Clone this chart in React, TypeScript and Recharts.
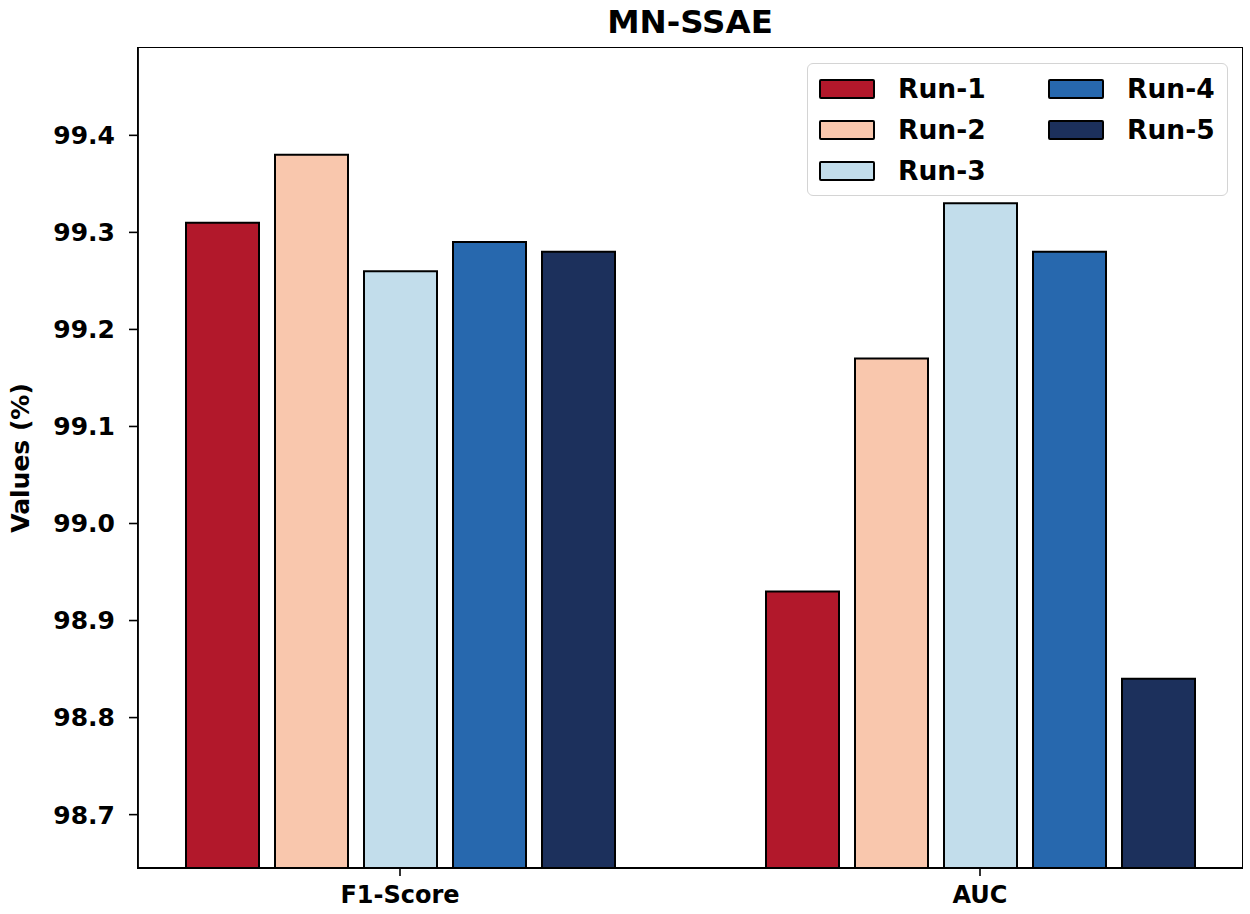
import React from 'react';
import { BarChart, Bar, XAxis, YAxis, Label } from 'recharts';

const categories = ['F1-Score', 'AUC'];
const run1 = [99.31, 98.93];
const run2 = [99.38, 99.17];
const run3 = [99.26, 99.33];
const run4 = [99.29, 99.28];
const run5 = [99.28, 98.84];
const seriesNames = ['Run-1', 'Run-2', 'Run-3', 'Run-4', 'Run-5'];
const seriesColors = ['#b2182b', '#f9c7ad', '#c2ddeb', '#2768ae', '#1c305c'];
const yTicks = [98.7, 98.8, 98.9, 99.0, 99.1, 99.2, 99.3, 99.4];

const seriesValues = [run1, run2, run3, run4, run5];
const data = categories.map((c, i) => {
  const row: Record<string, string | number> = { name: c };
  seriesNames.forEach((s, k) => {
    row[s] = seriesValues[k][i];
  });
  return row;
});

const FONT = '"DejaVu Sans", sans-serif';

const LegendBox = () => {
  const order = [0, 3, 1, 4, 2];
  return (
    <div
      style={{
        position: 'absolute',
        left: 807,
        top: 63,
        width: 421,
        height: 133,
        border: '1.5px solid #d4d4d4',
        borderRadius: 6,
        background: '#fff',
        boxSizing: 'border-box',
        fontFamily: FONT,
        fontWeight: 'bold',
        fontSize: 26.5,
      }}
    >
      {order.map((k, idx) => {
        const col = idx % 2;
        const row = Math.floor(idx / 2);
        return (
          <div
            key={seriesNames[k]}
            style={{
              position: 'absolute',
              left: col === 0 ? 11 : 240,
              top: 13 + row * 41,
              display: 'flex',
              alignItems: 'center',
              height: 24,
            }}
          >
            <div
              style={{
                width: 56,
                height: 20,
                background: seriesColors[k],
                border: '2px solid #000',
                boxSizing: 'border-box',
                borderRadius: 2,
              }}
            />
            <span style={{ marginLeft: 23, color: '#000', lineHeight: '24px' }}>{seriesNames[k]}</span>
          </div>
        );
      })}
    </div>
  );
};

export default function App() {
  return (
    <div style={{ position: 'absolute', left: 0, top: 0, width: 1250, height: 914, background: '#fff' }}>
      <BarChart
        width={1250}
        height={914}
        data={data}
        margin={{ top: 48, right: 8, bottom: 0, left: 0 }}
        barSize={73}
        barGap={16}
      >
        <XAxis
          dataKey="name"
          height={46}
          padding={{ left: -28, right: -28 }}
          axisLine={{ stroke: '#000', strokeWidth: 1.8 }}
          tickLine={{ stroke: '#000', strokeWidth: 1.6 }}
          tickSize={8}
          tickMargin={10}
          tick={{ fill: '#000', fontSize: 24, fontWeight: 'bold', fontFamily: FONT }}
        />
        <YAxis
          width={138}
          domain={[98.645, 99.49]}
          ticks={yTicks}
          allowDataOverflow
          type="number"
          axisLine={{ stroke: '#000', strokeWidth: 1.8 }}
          tickLine={{ stroke: '#000', strokeWidth: 1.6 }}
          tickSize={9}
          tickMargin={14}
          tickFormatter={(v: number) => v.toFixed(1)}
          tick={{ fill: '#000', fontSize: 25, fontWeight: 'bold', fontFamily: FONT }}
        >
          <Label
            content={() => (
              <text
                x={20}
                y={458}
                transform="rotate(-90, 20, 458)"
                textAnchor="middle"
                dominantBaseline="central"
                fontFamily={FONT}
                fontWeight="bold"
                fontSize={25}
                fill="#000"
              >
                Values (%)
              </text>
            )}
          />
        </YAxis>
        {seriesNames.map((s, k) => (
          <Bar
            key={s}
            dataKey={s}
            fill={seriesColors[k]}
            stroke="#000"
            strokeWidth={2}
            isAnimationActive={false}
          />
        ))}
      </BarChart>
      <div
        style={{
          position: 'absolute',
          left: 137,
          top: 47,
          width: 1106,
          height: 822,
          border: '1.8px solid #000',
          boxSizing: 'border-box',
          pointerEvents: 'none',
        }}
      />
      <div
        style={{
          position: 'absolute',
          left: 0,
          top: 3,
          width: 1380,
          textAlign: 'center',
          fontFamily: FONT,
          fontWeight: 'bold',
          fontSize: 32.5,
          color: '#000',
          lineHeight: '38px',
        }}
      >
        MN-SSAE
      </div>
      <LegendBox />
    </div>
  );
}
